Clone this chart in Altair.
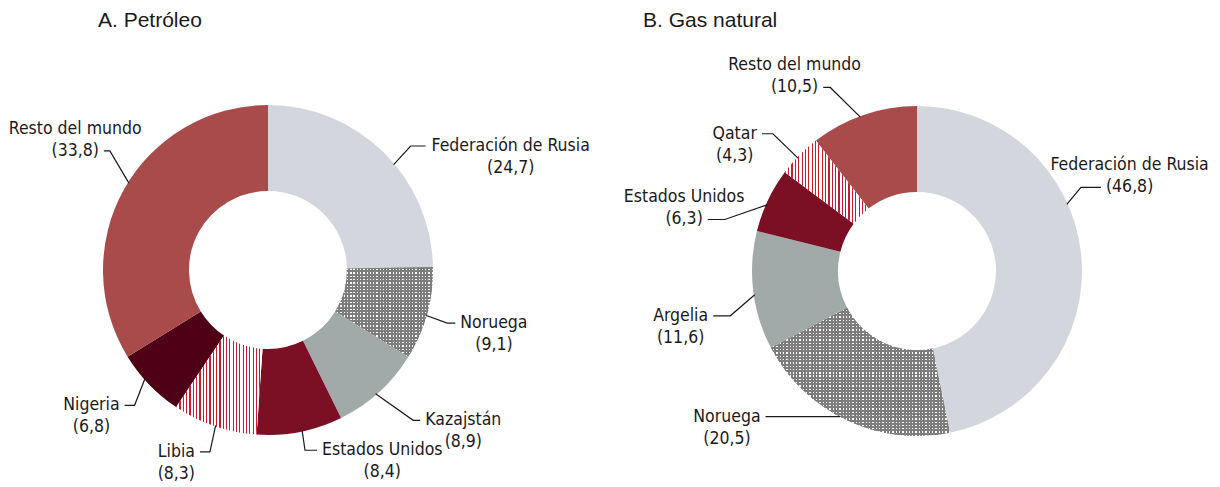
import math
import altair as alt
import pandas as pd

# ---------------- data ----------------
titles = ["A. Petróleo", "B. Gas natural"]
oil_names = ["Federación de Rusia", "Noruega", "Kazajstán", "Estados Unidos",
             "Libia", "Nigeria", "Resto del mundo"]
oil_values = [24.7, 9.1, 8.9, 8.4, 8.3, 6.8, 33.8]
gas_names = ["Federación de Rusia", "Noruega", "Argelia", "Estados Unidos",
             "Qatar", "Resto del mundo"]
gas_values = [46.8, 20.5, 11.6, 6.3, 4.3, 10.5]

# ---------------- styles / layout ----------------
oil_fills = ["#d3d7dd", "dots", "#a1aaa8", "#7b1024", "stripes", "#4f0016", "#a94b4b"]
gas_fills = ["#d3d7dd", "dots", "#a1aaa8", "#7b1024", "stripes", "#a94b4b"]
oil_attach = [1, 1, 1, 1, 1, 1, 2]
gas_attach = [2, 1, 1, 2, 1, 2]
# leader geometry: (start angle deg, elbow angle deg, elbow radius px, horizontal px)
oil_lead = [(50, 49, 189, 15), (106, 106.5, 187, 8), (139, 136, 209, 7),
            (168, 168.4, 184, 12), (198.6, 197.7, 191, 10), (228.6, 224.6, 190, 10),
            (302, 307, 198, 6)]
gas_lead = [(66, 63, 184, 20), (208, 208, 165, 74), (261.7, 256.5, 192, 17),
            (293.8, 285, 199, 17), (313.5, 313.6, 199, 11), (339.8, 334.7, 203, 7)]

OFF = 8
W, H = 1204, 479
CENTERS = [(268, 270), (917, 271)]
RO, RI = 165, 79
GAP = 5
LINE_H = 22
FONT = "'DejaVu Sans Condensed', 'Liberation Sans Narrow', sans-serif"
FS = 17.5
TXT = "#1a1a1a"
STRIPE_RED = "#c41e2e"
DOT_GREY = "#7d7d7d"

# DejaVu Sans widths (per 2048 em), condensed factor 0.9
CW = {'a': 1255, 'b': 1300, 'c': 1126, 'd': 1300, 'e': 1260, 'f': 721, 'g': 1300,
      'h': 1298, 'i': 569, 'j': 569, 'k': 1186, 'l': 569, 'm': 1995, 'n': 1298,
      'o': 1253, 'p': 1300, 'q': 1300, 'r': 842, 's': 1067, 't': 803, 'u': 1298,
      'v': 1212, 'w': 1675, 'x': 1212, 'y': 1212, 'z': 1075, 'á': 1255, 'ó': 1253,
      'A': 1401, 'B': 1405, 'C': 1430, 'D': 1577, 'E': 1294, 'F': 1178, 'G': 1587,
      'H': 1540, 'I': 604, 'J': 604, 'K': 1343, 'L': 1141, 'M': 1767, 'N': 1532,
      'O': 1612, 'P': 1235, 'Q': 1612, 'R': 1423, 'S': 1300, 'T': 1251, 'U': 1499,
      'V': 1401, 'W': 2025, 'X': 1403, 'Y': 1251, 'Z': 1403, ' ': 651, ',': 651,
      '.': 651, '(': 799, ')': 799}


def text_w(s):
    return sum(CW.get(ch, 1303) for ch in s) / 2048.0 * 0.9 * FS


def fmt(v):
    return "(" + (f"{v:.1f}").replace(".", ",") + ")"


def polar(cx, cy, ang_deg, r):
    a = math.radians(ang_deg)
    return (cx + r * math.sin(a), cy - r * math.cos(a))


arc_rows, lbl_rows, line_rows, patterned = [], [], [], []

for p, (names, values, fills, attach, lead) in enumerate([
        (oil_names, oil_values, oil_fills, oil_attach, oil_lead),
        (gas_names, gas_values, gas_fills, gas_attach, gas_lead)]):
    cx, cy = CENTERS[p]
    total = sum(values)
    acc = 0.0
    for i, (n, v) in enumerate(zip(names, values)):
        t0 = acc / total * 2 * math.pi
        acc += v
        t1 = acc / total * 2 * math.pi
        row = dict(panel=p, name=n, cx=cx, cy=cy, t0=t0, t1=t1, fill=fills[i])
        if fills[i] in ("dots", "stripes"):
            patterned.append(row)
        else:
            arc_rows.append(row)
        # leader line
        a_start, a_elbow, r_elbow, hseg = lead[i]
        side = 1 if math.sin(math.radians(a_elbow)) >= 0 else -1
        p0 = polar(cx, cy, a_start, RO - 1)
        p1 = polar(cx, cy, a_elbow, r_elbow)
        p2 = (p1[0] + side * hseg, p1[1])
        lid = f"{p}-{i}"
        for k, pt in enumerate([p0, p1, p2]):
            line_rows.append(dict(id=lid, k=k, x=pt[0], y=pt[1]))
        val = fmt(v)
        att_txt = n if attach[i] == 1 else val
        w = text_w(att_txt)
        bx = p2[0] + side * (GAP + w / 2)
        if attach[i] == 1:
            y_name, y_val = p2[1], p2[1] + LINE_H
        else:
            y_name, y_val = p2[1] - LINE_H, p2[1]
        lbl_rows.append(dict(x=bx, y=y_name, text=n))
        lbl_rows.append(dict(x=bx, y=y_val, text=val))

title_rows = [dict(x=98, y=27, text=titles[0]), dict(x=643, y=27, text=titles[1])]

xs = alt.Scale(domain=[OFF, OFF + W], range=[0, W])
ys = alt.Scale(domain=[OFF, OFF + H], range=[0, H])


def arc_enc():
    return dict(
        x=alt.X("cx:Q", scale=xs, axis=None),
        y=alt.Y("cy:Q", scale=ys, axis=None),
        theta=alt.Theta("t0:Q", scale=None),
        theta2=alt.Theta2("t1:Q"),
    )


def bbox(r):
    pts = []
    for j in range(401):
        a = r["t0"] + (r["t1"] - r["t0"]) * j / 400
        for rad in (RI, RO):
            pts.append((r["cx"] + rad * math.sin(a), r["cy"] - rad * math.cos(a)))
    xs_ = [q[0] for q in pts]
    ys_ = [q[1] for q in pts]
    return max(xs_) - min(xs_), max(ys_) - min(ys_)


def stripe_grad(length, pitch, frac_on, c_on, c_off, along_x=True):
    n = max(1, int(round(length / pitch)))
    stops = []
    for i in range(n):
        a = round(i / n, 5)
        b = round((i + frac_on) / n, 5)
        c = round((i + 1) / n, 5)
        stops += [dict(offset=a, color=c_on), dict(offset=b, color=c_on),
                  dict(offset=b, color=c_off), dict(offset=c, color=c_off)]
    g = dict(gradient="linear", stops=stops)
    if along_x:
        g.update(x1=0, y1=0, x2=1, y2=0)
    else:
        g.update(x1=0, y1=0, x2=0, y2=1)
    return g


arcs = alt.Chart(pd.DataFrame(arc_rows)).mark_arc(
    innerRadius=RI, outerRadius=RO
).encode(color=alt.Color("fill:N", scale=None), **arc_enc())

layers = [arcs]
for r in patterned:
    bw, bh = bbox(r)
    d = pd.DataFrame([r])
    if r["fill"] == "stripes":
        g = stripe_grad(bw, 3.3, 0.36, STRIPE_RED, "#ffffff", along_x=True)
        layers.append(alt.Chart(d).mark_arc(innerRadius=RI, outerRadius=RO, fill=g)
                      .encode(**arc_enc()))
    else:
        g1 = stripe_grad(bw, 3.3, 0.6, DOT_GREY, "#ffffff", along_x=True)
        g2 = stripe_grad(bh, 3.3, 0.6, DOT_GREY, "rgba(125,125,125,0)", along_x=False)
        layers.append(alt.Chart(d).mark_arc(innerRadius=RI, outerRadius=RO, fill=g1)
                      .encode(**arc_enc()))
        layers.append(alt.Chart(d).mark_arc(innerRadius=RI, outerRadius=RO, fill=g2)
                      .encode(**arc_enc()))

leaders = alt.Chart(pd.DataFrame(line_rows)).mark_line(
    color="#1a1a1a", strokeWidth=1.2
).encode(
    x=alt.X("x:Q", scale=xs, axis=None),
    y=alt.Y("y:Q", scale=ys, axis=None),
    detail="id:N",
    order="k:Q",
)

labels = alt.Chart(pd.DataFrame(lbl_rows)).mark_text(
    font=FONT, fontSize=FS, color=TXT, align="center", baseline="middle"
).encode(
    x=alt.X("x:Q", scale=xs, axis=None),
    y=alt.Y("y:Q", scale=ys, axis=None),
    text="text:N",
)

title_marks = alt.Chart(pd.DataFrame(title_rows)).mark_text(
    font="'Liberation Sans', Arial, sans-serif", fontSize=21, color=TXT,
    align="left", baseline="alphabetic"
).encode(
    x=alt.X("x:Q", scale=xs, axis=None),
    y=alt.Y("y:Q", scale=ys, axis=None),
    text="text:N",
)

layers += [leaders, labels, title_marks]

chart = alt.layer(*layers).properties(
    width=W, height=H, autosize="none", padding=0
).configure_view(stroke=None)

chart.save("out.html", embed_options={"renderer": "svg", "actions": False})
